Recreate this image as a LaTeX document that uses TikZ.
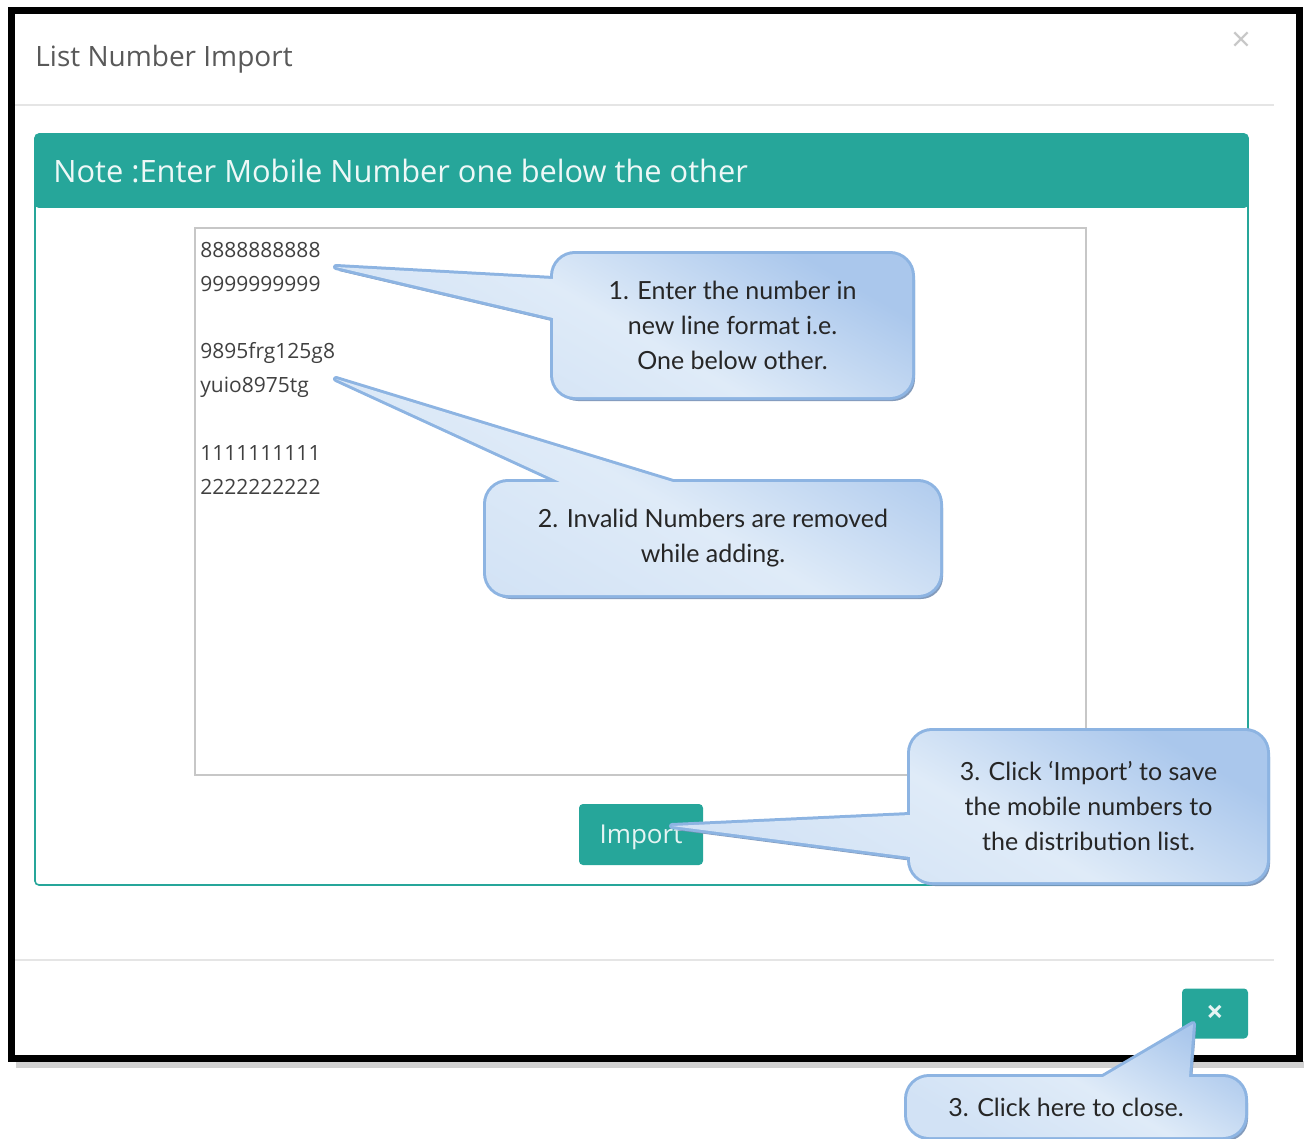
\documentclass[tikz,border=0pt]{standalone}
\usepackage{fontspec}
\setmainfont{Open Sans}
\newfontfamily\callfont{Lato}
\usetikzlibrary{positioning,calc,shadows}
\definecolor{panelteal}{RGB}{38,166,154}
\definecolor{callborder}{RGB}{141,180,226}
\definecolor{calllight}{RGB}{223,235,248}
\definecolor{calldark}{RGB}{170,199,236}
\definecolor{callshadow}{RGB}{118,144,180}
\tikzset{
  dlgframe/.style={draw=black, line width=3.5pt},
  dlgline/.style={draw=black!10, line width=0.6pt},
  dlgtitle/.style={font=\fontsize{14}{14}\selectfont, text=black!65, inner sep=0pt},
  panelbox/.style={draw=panelteal, line width=0.8pt, rounded corners=2pt},
  notetext/.style={font=\fontsize{15.4}{15.4}\selectfont, text=white!92!panelteal, inner sep=0pt},
  inputbox/.style={draw=black!22, line width=0.6pt},
  entry/.style={font=\fontsize{10.5}{10.5}\selectfont, text=black!75, inner sep=0pt},
  tealbtn/.style={fill=panelteal, rounded corners=2pt, text=white!88!panelteal, inner sep=0pt, text depth=0pt},
  callshape/.style={drop shadow={shadow xshift=1.5pt, shadow yshift=-2pt, fill=callshadow, opacity=0.9},
                    preaction={draw=callborder, line width=3pt, line join=round},
                    top color=calldark, bottom color=calllight!75!calldark, middle color=calllight,
                    shading angle=-30},
  calltext/.style={font=\callfont\fontsize{12.5}{17.5}\selectfont, text=black!85, align=center, inner sep=0pt},
}

\begin{document}
\begin{tikzpicture}[x=0.5pt,y=-0.5pt]
\useasboundingbox (0,0) rectangle (1305,1139);
% dialog window
\fill[black!18] (16,1061) rectangle (1304,1068);
\draw[dlgframe] (11.5,11) rectangle (1299,1058);
\node[dlgtitle, anchor=base west] (title) at (35,67) {List Number Import};
\node[font=\fontsize{17}{17}\selectfont, text=black!22, inner sep=0pt] (closex) at (1241,42) {×};
\draw[dlgline] (15,105) -- (1274,105);
\draw[dlgline] (15,960) -- (1274,960);
% panel
\fill[panelteal, rounded corners=2pt] (35,134) rectangle (1248,208);
\draw[panelbox] (35,134) rectangle (1248,885);
\node[notetext, anchor=base west] (note) at (53,183) {Note :Enter Mobile Number one below the other};
\draw[inputbox] (195,228) rectangle (1086,775);
\foreach \num/\yy [count=\i] in {8888888888/257, 9999999999/291, 9895frg125g8/358,
    yuio8975tg/392, 1111111111/460, 2222222222/494}
  \node[entry, anchor=base west] (num\i) at (200,\yy) {\num};
\node[tealbtn, minimum width=62pt, minimum height=30.5pt, font=\fontsize{13}{13}\selectfont]
  (import) at (641,834.5) {Import};
\node[tealbtn, minimum width=33pt, minimum height=25pt, font=\fontsize{15}{15}\selectfont\bfseries]
  (closebtn) at (1215,1013.5) {×};
% callouts
\coordinate (c1nw) at (553,254); \coordinate (c1se) at (912,397); \coordinate (tip1) at (336,267);
\coordinate (c2nw) at (486,482); \coordinate (c2se) at (940,595); \coordinate (tip2) at (336,379);
\coordinate (c3nw) at (910,731); \coordinate (c3se) at (1267,882); \coordinate (tip3) at (672,826);
\coordinate (c4nw) at (907,1077); \coordinate (c4se) at (1245,1137); \coordinate (tip4) at (1193,1024);
\path[callshape] [rounded corners=11pt] (c1nw) rectangle (c1se) [sharp corners]
  (tip1) -- ($(c1nw)+(0,25)$) -- ($(c1nw)+(0,64)$) -- cycle;
\path[callshape] [rounded corners=11pt] (c2nw) rectangle (c2se) [sharp corners]
  (tip2) -- ($(c2nw)+(74,0)$) -- ($(c2nw)+(187,0)$) -- cycle;
\path[callshape] [rounded corners=11pt] (c3nw) rectangle (c3se) [sharp corners]
  (tip3) -- ($(c3nw)+(0,84)$) -- ($(c3nw)+(0,126)$) -- cycle;
\path[callshape] [rounded corners=11pt] (c4nw) rectangle (c4se) [sharp corners]
  (tip4) -- ($(c4nw)+(196,0)$) -- ($(c4nw)+(282,0)$) -- cycle;
\node[calltext] (c1) at ($(c1nw)!0.5!(c1se)$) {1. Enter the number in\\new line format i.e.\\One below other.};
\node[calltext] (c2) at ($(c2nw)!0.5!(c2se)$) {2. Invalid Numbers are removed\\while adding.};
\node[calltext] (c3) at ($(c3nw)!0.5!(c3se)$) {3. Click ‘Import’ to save\\the mobile numbers to\\the distribution list.};
\node[calltext] (c4) at ($(c4nw)!0.5!(c4se)+(-10,0)$) {3. Click here to close.};
\end{tikzpicture}
\end{document}
